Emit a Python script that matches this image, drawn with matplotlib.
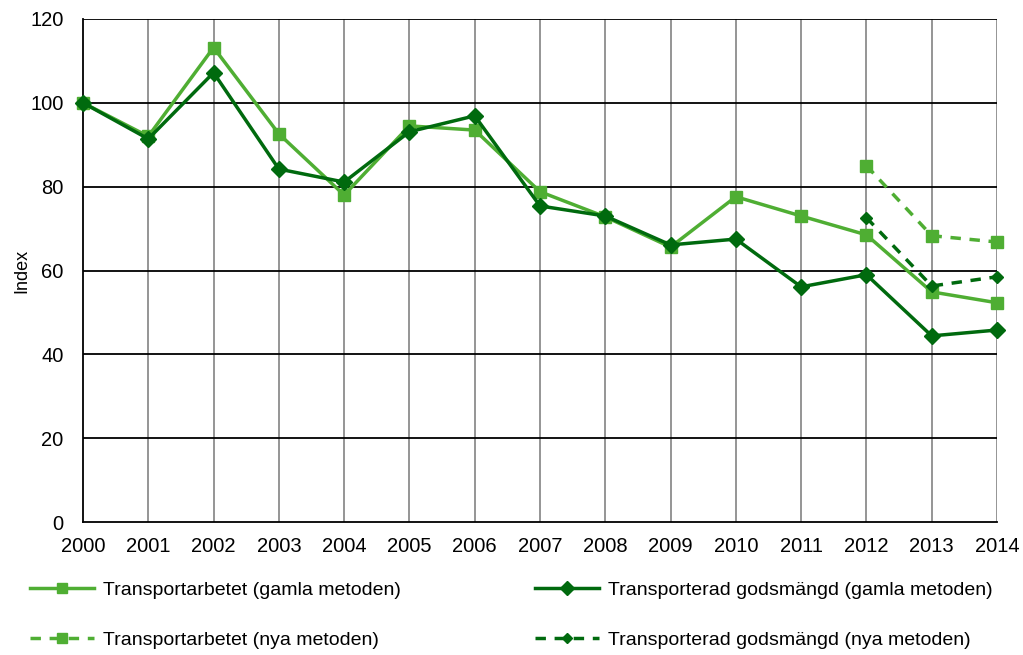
import matplotlib
matplotlib.use("Agg")
import matplotlib.pyplot as plt

plt.rcParams['font.family'] = ['Liberation Sans', 'DejaVu Sans']

years = list(range(2000, 2015))
arbete_gamla = [100, 92, 113.2, 92.6, 78, 94.5, 93.5, 78.8, 72.8, 65.6, 77.6, 73, 68.5, 54.9, 52.3]
gods_gamla = [100, 91.4, 107.2, 84.2, 81.1, 93.1, 96.9, 75.4, 73, 66.1, 67.5, 56.1, 59, 44.4, 45.8]
years_nya = [2012, 2013, 2014]
arbete_nya = [85, 68.3, 66.8]
gods_nya = [72.6, 56.3, 58.5]

light = '#4FAE33'
dark = '#006A0E'

fig = plt.figure(figsize=(10.23, 6.55), dpi=100)
ax = fig.add_axes([83/1023, 1-522/655, (997-83)/1023, (522-19)/655])

ax.set_xlim(2000, 2014)
ax.set_ylim(0, 120)
ax.set_yticks(range(0, 121, 20))
ax.set_xticks(years)
for x in years[1:]:
    ax.axvline(x, color='#8C8C8C', lw=1.3, zorder=1)
for y in range(20, 121, 20):
    ax.axhline(y, color='black', lw=1.3, zorder=1)

l1, = ax.plot(years, arbete_gamla, color=light, lw=2.5, marker='s', ms=8, zorder=3, clip_on=False)
l2, = ax.plot(years, gods_gamla, color=dark, lw=2.5, marker='D', ms=8, zorder=4, clip_on=False)
l3, = ax.plot(years_nya, arbete_nya, color=light, lw=2.5, ls=(0, (3, 2.5)), marker='s', ms=8, zorder=3, clip_on=False)
l4, = ax.plot(years_nya, gods_nya, color=dark, lw=2.5, ls=(0, (3, 2.5)), marker='D', ms=6, zorder=4, clip_on=False)

for s in ['top', 'right']:
    ax.spines[s].set_visible(False)
ax.spines['left'].set_linewidth(1.3)
ax.spines['bottom'].set_linewidth(1.3)
ax.tick_params(axis='both', length=0, labelsize=14.5, colors='black')
ax.tick_params(axis='x', pad=11)
ax.tick_params(axis='y', pad=14)
ax.set_ylabel('Index', fontsize=13, labelpad=0)

fig.legend([l1, l3, l2, l4],
           ['Transportarbetet (gamla metoden)', 'Transportarbetet (nya metoden)',
            'Transporterad godsmängd (gamla metoden)', 'Transporterad godsmängd (nya metoden)'],
           loc='lower left', bbox_to_anchor=(0.012, -0.018, 0.975, 0.12), ncol=2, mode='expand',
           frameon=False, fontsize=14, handlelength=3.3, handletextpad=0.45,
           columnspacing=2, labelspacing=1.7, markerscale=0.85)

fig.savefig('out.png', dpi=100)
